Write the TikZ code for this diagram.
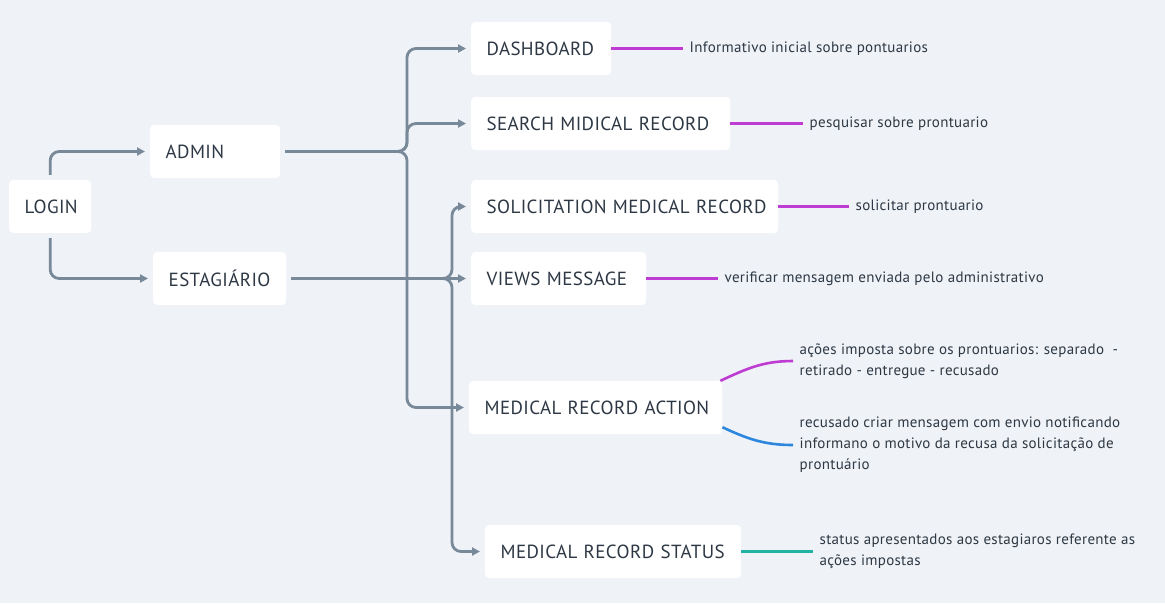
\documentclass[tikz,border=0pt]{standalone}
\usepackage{fontspec}
\setmainfont[LetterSpace=2]{PT Sans}
\usetikzlibrary{arrows.meta,positioning}
\definecolor{bg}{HTML}{EFF2F6}
\definecolor{linegray}{HTML}{78899A}
\definecolor{ink}{HTML}{2D3844}
\definecolor{notepink}{HTML}{BE3CD2}
\definecolor{noteblue}{HTML}{2E87DE}
\definecolor{noteteal}{HTML}{22B3A3}
\tikzset{
  box/.style={fill=white, rounded corners=4pt, minimum height=53pt, inner xsep=15.5pt, anchor=west, align=left, font=\fontsize{19}{22}\selectfont, text=ink},
  note/.style={anchor=west, inner xsep=6.5pt, align=left, font=\fontsize{15}{21}\selectfont, text=ink},
  link/.style={draw=linegray, line width=2.8pt, rounded corners=9pt, -{Triangle[length=8pt,width=8pt]}, shorten <=5pt, shorten >=5pt},
  tag/.style={line width=2.6pt},
}
\begin{document}
\begin{tikzpicture}[x=1pt,y=-1pt]
	\fill[bg] (0,0) rectangle (1165,603);
	\useasboundingbox (0,0) rectangle (1165,603);
	% boxes
	\node[box, text width=51pt] (login) at (9,206.5) {\mbox{LOGIN}};
	\node[box, text width=99pt] (admin) at (150,151.5) {\mbox{ADMIN}};
	\node[box, text width=102pt] (estag) at (153,278.5) {\mbox{ESTAGIÁRIO}};
	\node[box, text width=109pt] (dash) at (471,48.5) {\mbox{DASHBOARD}};
	\node[box, text width=228pt] (search) at (471,123.5) {\mbox{SEARCH MIDICAL RECORD}};
	\node[box, text width=276pt] (solic) at (471,206.5) {\mbox{SOLICITATION MEDICAL RECORD}};
	\node[box, text width=144pt] (views) at (471,278.5) {\mbox{VIEWS MESSAGE}};
	\node[box, text width=222pt] (action) at (469,407.5) {\mbox{MEDICAL RECORD ACTION}};
	\node[box, text width=225pt] (status) at (485,551.5) {\mbox{MEDICAL RECORD STATUS}};
	% links
	\coordinate (abus) at (407,151.5);
	\coordinate (ebus) at (452,278.5);
	\draw[link] (login.north) |- (admin.west);
	\draw[link] (login.south) |- (estag.west);
	\draw[link] (admin.east) -- (abus) |- (dash.west);
	\draw[link] (admin.east) -- (abus) |- (search.west);
	\draw[link] (admin.east) -- (abus) |- (action.west);
	\draw[link] (estag.east) -- (ebus) |- (solic.west);
	\draw[link] (estag.east) -- (views.west);
	\draw[link] (estag.east) -- (ebus) |- (status.west);
	% notes
	\node[note] (dashnote) at (683,48.5) {Informativo inicial sobre pontuarios};
	\node[note] (searchnote) at (803,123.5) {pesquisar sobre prontuario};
	\node[note] (solicnote) at (849,206.5) {solicitar prontuario};
	\node[note] (viewsnote) at (718,278.5) {verificar mensagem enviada pelo administrativo};
	\node[note] (actnote) at (793,361) {ações imposta sobre os prontuarios: separado\ \ -\\retirado - entregue - recusado};
	\node[note] (refnote) at (793,445) {recusado criar mensagem com envio notificando\\informano o motivo da recusa da solicitação de\\prontuário};
	\node[note] (statnote) at (813,551.5) {status apresentados aos estagiaros referente as\\ações impostas};
	\draw[tag, notepink] (dash.east) -- (dashnote.west);
	\draw[tag, notepink] (search.east) -- (searchnote.west);
	\draw[tag, notepink] (solic.east) -- (solicnote.west);
	\draw[tag, notepink] (views.east) -- (viewsnote.west);
	\draw[tag, notepink] ([xshift=-2pt]action.north east) to[out=25,in=180] (actnote.west);
	\draw[tag, noteblue] ([yshift=7pt]action.south east) to[out=-25,in=180] (refnote.west);
	\draw[tag, noteteal] (status.east) -- (statnote.west);
\end{tikzpicture}
\end{document}
